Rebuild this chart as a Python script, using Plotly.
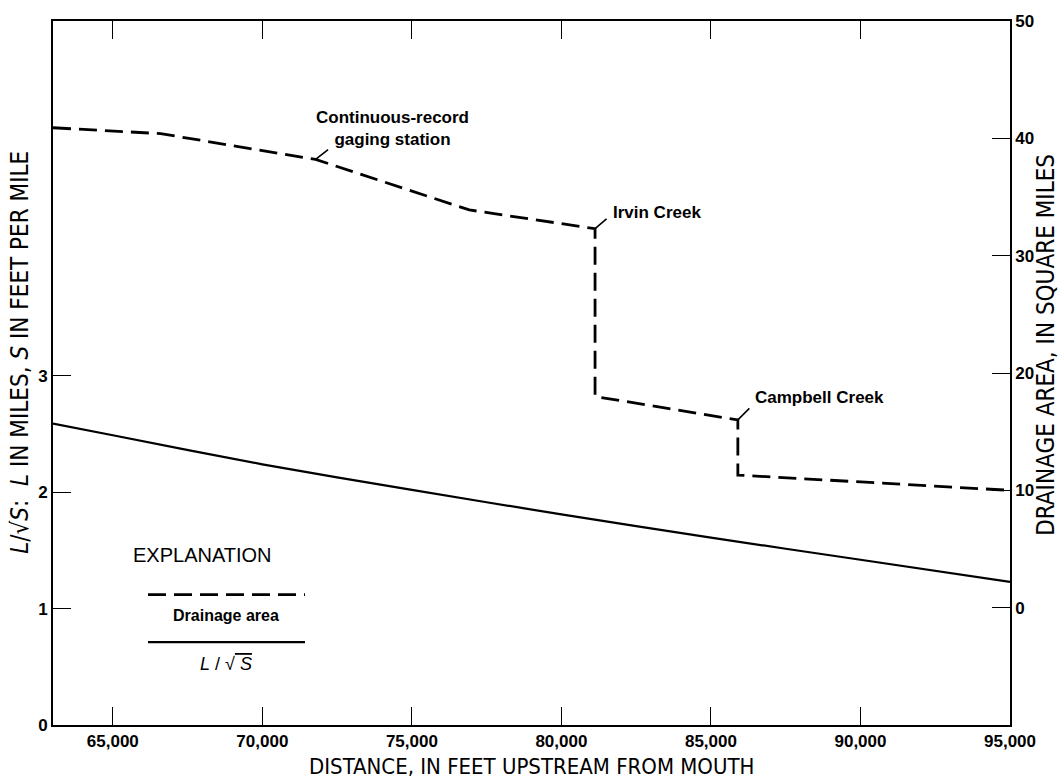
import plotly.graph_objects as go

# ---- data ----
dist_area = [63000, 66600, 71780, 76920, 81125, 81125, 85900, 85900, 95000]
drainage_area = [40.9, 40.4, 38.2, 33.9, 32.3, 18.0, 16.0, 11.3, 10.0]

dist_ls = [63000, 65000, 70000, 75000, 80000, 85000, 90000, 95000]
l_over_sqrt_s = [2.59, 2.49, 2.24, 2.02, 1.81, 1.61, 1.42, 1.23]

x_ticks = [65000, 70000, 75000, 80000, 85000, 90000, 95000]
x_tick_text = ["65,000", "70,000", "75,000", "80,000", "85,000", "90,000", "95,000"]
left_ticks = [0, 1, 2, 3]
right_ticks = [0, 10, 20, 30, 40, 50]

sites = ["Continuous-record<br>gaging station", "Irvin Creek", "Campbell Creek"]
site_x = [71780, 81125, 85900]
site_y = [38.2, 32.3, 16.0]

FONT = "Liberation Sans, Arial, Helvetica, sans-serif"
NARROW = "Liberation Sans Narrow, Arial Narrow, DejaVu Sans Condensed, sans-serif"

fig = go.Figure()
fig.add_trace(go.Scatter(x=dist_ls, y=l_over_sqrt_s, mode="lines",
                         line=dict(color="black", width=2.2, shape="spline", smoothing=0.6),
                         yaxis="y", showlegend=False, hoverinfo="skip"))
fig.add_trace(go.Scatter(x=dist_area, y=drainage_area, mode="lines",
                         line=dict(color="black", width=2.8, dash="18px,8px"),
                         yaxis="y2", showlegend=False, hoverinfo="skip"))

W, H = 1061, 783
ml, mr, mt, mb = 53, 51, 12, 58
pw, ph = W - ml - mr, H - mt - mb
def px(xp):
    return (xp - ml) / pw
def py(yp):
    return (H - mb - yp) / ph

ann = []
# leader lines
leader = [(14, -11), (13, -11), (13, -13)]
for (sx, sy), (dx, dy) in zip(zip(site_x, site_y), leader):
    ann.append(dict(x=sx, y=sy, xref="x", yref="y2", text="", showarrow=True, arrowhead=0, arrowwidth=1.6,
                    arrowcolor="black", ax=dx, ay=dy, standoff=0, startstandoff=0))
# labels
LBL = dict(family=FONT, size=17, color="black", weight="bold")
ann.append(dict(x=site_x[0], y=site_y[0], xref="x", yref="y2", text=sites[0], showarrow=False, xanchor="left",
                yanchor="bottom", align="center", xshift=-2, yshift=8, font=LBL))
ann.append(dict(x=site_x[1], y=site_y[1], xref="x", yref="y2", text=sites[1], showarrow=False, xanchor="left",
                yanchor="middle", xshift=16, yshift=16, font=LBL))
ann.append(dict(x=site_x[2], y=site_y[2], xref="x", yref="y2", text=sites[2], showarrow=False, xanchor="left",
                yanchor="middle", xshift=15, yshift=22, font=LBL))

# legend (explanation box)
ann.append(dict(x=px(131), y=py(553), xref="paper", yref="paper", text="EXPLANATION", showarrow=False,
                xanchor="left", yanchor="middle", font=dict(family=FONT, size=20, color="black")))
ann.append(dict(x=px(226), y=py(614), xref="paper", yref="paper", text="Drainage area", showarrow=False,
                xanchor="center", yanchor="middle", font=dict(family=FONT, size=16, color="black", weight="bold")))
ann.append(dict(x=px(226), y=py(663), xref="paper", yref="paper",
                text="<i>L</i> / √<span style='text-decoration:overline'> <i>S</i></span>",
                showarrow=False, xanchor="center", yanchor="middle", font=dict(family=FONT, size=18, color="black")))

# axis titles as text
ann.append(dict(x=0.5, y=py(767), xref="paper", yref="paper", text="DISTANCE, IN FEET UPSTREAM FROM MOUTH",
                showarrow=False, xanchor="center", yanchor="middle",
                font=dict(family=NARROW, size=22, color="black")))
ann.append(dict(x=px(20), y=py(348), xref="paper", yref="paper", textangle=-90,
                text="<i>L</i>/√<i>S</i>:  <i>L</i> IN MILES, <i>S</i> IN FEET PER MILE",
                showarrow=False, xanchor="center", yanchor="middle",
                font=dict(family=NARROW, size=24, color="black")))
ann.append(dict(x=px(1046), y=py(340), xref="paper", yref="paper", textangle=-90,
                text="DRAINAGE AREA, IN SQUARE MILES",
                showarrow=False, xanchor="center", yanchor="middle",
                font=dict(family=NARROW, size=24, color="black")))

shapes = [
    dict(type="line", xref="paper", yref="paper", x0=px(148), x1=px(305), y0=py(593), y1=py(593),
         line=dict(color="black", width=2.8, dash="18px,8px")),
    dict(type="line", xref="paper", yref="paper", x0=px(148), x1=px(305), y0=py(641), y1=py(641),
         line=dict(color="black", width=2.2)),
]

TICK = dict(family=FONT, size=17, color="black", weight="bold")
fig.update_layout(
    width=W, height=H, margin=dict(l=ml, r=mr, t=mt, b=mb),
    paper_bgcolor="white", plot_bgcolor="white",
    annotations=ann, shapes=shapes,
    xaxis=dict(range=[63000, 95000], tickvals=x_ticks, ticktext=x_tick_text, ticks="inside", ticklen=18,
               tickwidth=1.3, tickcolor="black", showline=True, linecolor="black", linewidth=1.8, mirror="ticks",
               showgrid=False, zeroline=False, tickfont=TICK),
    yaxis=dict(range=[0, 6.05], tickvals=left_ticks, ticks="inside", ticklen=18, tickwidth=1.3, tickcolor="black",
               showline=True, linecolor="black", linewidth=1.8, showgrid=False, zeroline=False, tickfont=TICK),
    yaxis2=dict(range=[-10, 50], tickvals=right_ticks, overlaying="y", side="right", ticks="inside", ticklen=18,
                tickwidth=1.3, tickcolor="black", showline=True, linecolor="black", linewidth=1.8, showgrid=False,
                zeroline=False, tickfont=TICK),
)

fig.write_html("out.html")
